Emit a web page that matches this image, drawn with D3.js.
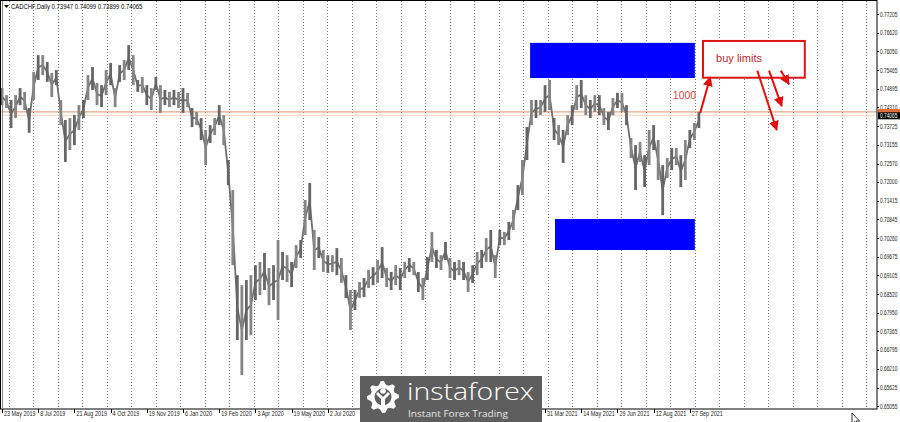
<!DOCTYPE html>
<html><head><meta charset="utf-8">
<script src="https://cdn.jsdelivr.net/npm/d3@7"></script>
<style>html,body{margin:0;padding:0;background:#fff;overflow:hidden}svg{display:block}</style>
</head><body>
<svg id="c" width="900" height="422"></svg>
<script>
// ---------- data ----------
const symbolTitle = "CADCHF,Daily";
const headerValues = ["0.73947", "0.74099", "0.73899", "0.74065"];
const priceTicks = [0.77205,0.76620,0.76050,0.75465,0.74895,0.74310,0.73725,0.73155,0.72570,0.72000,0.71415,0.70845,0.70260,0.69675,0.69105,0.68520,0.67950,0.67365,0.66795,0.66210,0.65625,0.65055];
const dateLabels = ["23 May 2019","8 Jul 2019","21 Aug 2019","4 Oct 2019","19 Nov 2019","6 Jan 2020","19 Feb 2020","3 Apr 2020","19 May 2020","2 Jul 2020","31 Mar 2021","14 May 2021","29 Jun 2021","12 Aug 2021","27 Sep 2021"];
const dateLabelBars = [0,8,16,24,32,40,48,56,64,72,120,128,136,144,152];
// sampled highs / lows of the daily bars (one sample every ~4.5 bars)
const highs = [0.7491,0.7469,0.7454,0.7469,0.7491,0.7479,0.7429,0.7541,0.7593,0.7593,
0.7572,0.7538,0.7547,0.7454,0.7392,0.7398,0.7407,0.7438,0.7454,0.7531,
0.7556,0.7507,0.7500,0.7547,0.7569,0.7491,0.7562,0.7578,0.7624,0.7593,
0.7516,0.7525,0.7500,0.7491,0.7525,0.7500,0.7485,0.7479,0.7485,0.7479,
0.7491,0.7476,0.7429,0.7417,0.7398,0.7361,0.7376,0.7398,0.7438,0.7407,
0.7268,0.7175,0.6911,0.6880,0.6896,0.6911,0.6942,0.6952,0.6980,0.6933,
0.6942,0.7020,0.6983,0.6973,0.6952,0.7004,0.7020,0.7144,0.7197,0.7051,
0.7029,0.6989,0.6973,0.6973,0.6995,0.6964,0.6911,0.6865,0.6865,0.6890,
0.6902,0.6927,0.6936,0.6958,0.6998,0.6933,0.6921,0.6942,0.6933,0.6952,
0.6964,0.6952,0.6921,0.6902,0.6967,0.7045,0.6989,0.6973,0.7014,0.6964,
0.6952,0.6958,0.6952,0.6921,0.6942,0.6983,0.6989,0.7026,0.7051,0.6973,
0.7051,0.7045,0.7076,0.7113,0.7190,0.7268,0.7370,0.7454,0.7454,0.7454,
0.7500,0.7516,0.7398,0.7376,0.7361,0.7407,0.7438,0.7500,0.7516,0.7469,
0.7454,0.7469,0.7469,0.7429,0.7417,0.7460,0.7476,0.7476,0.7438,0.7336,
0.7314,0.7324,0.7283,0.7361,0.7376,0.7330,0.7252,0.7274,0.7305,0.7305,
0.7283,0.7330,0.7361,0.7383,0.7417];
const lows = [0.7438,0.7429,0.7367,0.7398,0.7438,0.7423,0.7352,0.7454,0.7516,0.7531,
0.7510,0.7463,0.7500,0.7376,0.7262,0.7299,0.7314,0.7361,0.7398,0.7454,
0.7485,0.7438,0.7432,0.7469,0.7500,0.7432,0.7510,0.7516,0.7547,0.7500,
0.7479,0.7476,0.7438,0.7423,0.7485,0.7414,0.7438,0.7432,0.7438,0.7429,
0.7414,0.7432,0.7370,0.7376,0.7330,0.7252,0.7321,0.7345,0.7376,0.7314,
0.7190,0.6942,0.6710,0.6601,0.6710,0.6725,0.6834,0.6849,0.6865,0.6818,
0.6834,0.6772,0.6896,0.6890,0.6874,0.6933,0.6964,0.7035,0.7082,0.6927,
0.6964,0.6921,0.6918,0.6921,0.6911,0.6887,0.6840,0.6741,0.6803,0.6840,
0.6843,0.6871,0.6880,0.6887,0.6902,0.6874,0.6865,0.6880,0.6865,0.6902,
0.6921,0.6911,0.6859,0.6834,0.6896,0.6952,0.6933,0.6927,0.6958,0.6902,
0.6896,0.6911,0.6896,0.6859,0.6887,0.6911,0.6933,0.6952,0.6952,0.6902,
0.7004,0.7004,0.7020,0.7051,0.7113,0.7159,0.7268,0.7376,0.7398,0.7407,
0.7417,0.7423,0.7330,0.7314,0.7259,0.7345,0.7376,0.7423,0.7429,0.7407,
0.7398,0.7417,0.7407,0.7376,0.7361,0.7407,0.7429,0.7417,0.7376,0.7274,
0.7175,0.7262,0.7184,0.7252,0.7299,0.7206,0.7097,0.7212,0.7237,0.7252,
0.7184,0.7206,0.7305,0.7330,0.7367];
const lastPrice = 0.74065;
const levelPrice = 0.7417;
const zones = [
  {b0: 116.7, b1: 153.1, pTop: 0.7631, pBot: 0.7522},
  {b0: 122.2, b1: 153.1, pTop: 0.7085, pBot: 0.6989}
];
const noteBox = {b0: 154.9, b1: 177.4, pTop: 0.7637, pBot: 0.7523, text: "buy limits", tb: 157.8, tp: 0.7572};
const arrows = [
  {b0: 154.3, p0: 0.7414, b1: 156.5, p1: 0.7525},
  {b0: 166.9, p0: 0.7545, b1: 171.2, p1: 0.7361},
  {b0: 169.5, p0: 0.7545, b1: 172.3, p1: 0.7435},
  {b0: 172.1, p0: 0.7545, b1: 173.9, p1: 0.7503}
];
const lotNote = {text: "1000", b: 153.4, p: 0.7457};

// ---------- chart ----------
const svg = d3.select("#c");
const W = 900, H = 422, plotR = 877, plotB = 409;
const x = d3.scaleLinear().domain([0, 154]).range([2, 698.9]);
const y = d3.scaleLinear().domain([0.65055, 0.77205]).range([406, 14]);
const font = "'Liberation Sans', Arial, sans-serif";
const squeeze = (px, py, k) => `translate(${px},${py}) scale(${k},1)`;

svg.append("rect").attr("width", W).attr("height", H).attr("fill", "#fff");

// vertical dotted grid
const gridBars = d3.range(1.5, x.invert(plotR), 154 / 28.44);
svg.append("g").selectAll("line").data(gridBars).join("line")
  .attr("x1", d => Math.round(x(d)) + 0.5).attr("x2", d => Math.round(x(d)) + 0.5)
  .attr("y1", 1).attr("y2", plotB)
  .attr("stroke", "#7a7a7a").attr("stroke-width", 1).attr("stroke-dasharray", "1,2");

// zones
svg.append("g").selectAll("rect").data(zones).join("rect")
  .attr("x", d => x(d.b0)).attr("width", d => x(d.b1) - x(d.b0))
  .attr("y", d => y(d.pTop)).attr("height", d => y(d.pBot) - y(d.pTop))
  .attr("fill", "#0000ff");

// level lines
svg.append("line").attr("x1", 1).attr("x2", plotR).attr("y1", y(levelPrice)).attr("y2", y(levelPrice))
  .attr("stroke", "#d9906a").attr("stroke-width", 1);
svg.append("line").attr("x1", 1).attr("x2", plotR).attr("y1", y(lastPrice)).attr("y2", y(lastPrice))
  .attr("stroke", "#f0d2c2").attr("stroke-width", 1);

// price bars
const bars = highs.map((h, i) => ({i, h, l: lows[i]}));
const mid = d3.line().x(d => x(d.i)).y(d => y((d.h + d.l) / 2));
svg.append("path").datum(bars).attr("d", mid).attr("fill", "none")
  .attr("stroke", "#707070").attr("stroke-width", 1.8);
svg.append("g").selectAll("rect").data(bars).join("rect")
  .attr("x", d => x(d.i) - 1.4).attr("width", 2.8)
  .attr("y", d => y(d.h)).attr("height", d => y(d.l) - y(d.h))
  .attr("fill", (d, i) => i % 2 ? "#858585" : "#666");

// note box and arrows
svg.append("defs").append("marker").attr("id", "ah").attr("viewBox", "0 0 10 10")
  .attr("refX", 9).attr("refY", 5).attr("markerWidth", 5).attr("markerHeight", 5)
  .attr("orient", "auto").append("path").attr("d", "M0,0L10,5L0,10z").attr("fill", "#e01010");
svg.append("rect").attr("x", x(noteBox.b0)).attr("y", y(noteBox.pTop))
  .attr("width", x(noteBox.b1) - x(noteBox.b0)).attr("height", y(noteBox.pBot) - y(noteBox.pTop))
  .attr("fill", "#fff").attr("stroke", "#dd1414").attr("stroke-width", 2);
svg.append("text").attr("x", x(noteBox.tb)).attr("y", y(noteBox.tp))
  .attr("font-family", font).attr("font-size", 11).attr("fill", "#c0282a").text(noteBox.text);
svg.append("g").selectAll("line").data(arrows).join("line")
  .attr("x1", d => x(d.b0)).attr("y1", d => y(d.p0)).attr("x2", d => x(d.b1)).attr("y2", d => y(d.p1))
  .attr("stroke", "#e01010").attr("stroke-width", 2).attr("marker-end", "url(#ah)");
svg.append("text").attr("x", x(lotNote.b)).attr("y", y(lotNote.p)).attr("text-anchor", "end")
  .attr("font-family", font).attr("font-size", 10.5).attr("fill", "#d04848").text(lotNote.text);

// frame
svg.append("rect").attr("x", 0.5).attr("y", 0.5).attr("width", plotR - 0.5).attr("height", plotB - 0.5)
  .attr("fill", "none").attr("stroke", "#000");
svg.append("line").attr("x1", 2.5).attr("x2", 2.5).attr("y1", 1).attr("y2", plotB).attr("stroke", "#888");

// right price axis
const yAxis = svg.append("g");
yAxis.selectAll("line").data(priceTicks).join("line")
  .attr("x1", plotR).attr("x2", plotR + 2).attr("y1", d => Math.round(y(d)) + 0.5).attr("y2", d => Math.round(y(d)) + 0.5)
  .attr("stroke", "#000");
yAxis.selectAll("text").data(priceTicks).join("text")
  .attr("transform", d => squeeze(plotR + 3, y(d) + 2.5, 0.74))
  .attr("font-family", font).attr("font-size", 6.5).attr("fill", "#222")
  .text(d => d.toFixed(5));
// current price labels
svg.append("rect").attr("x", plotR + 1).attr("y", y(levelPrice) - 3).attr("width", W - plotR).attr("height", 6).attr("fill", "#e0703a");
svg.append("rect").attr("x", plotR + 1).attr("y", y(lastPrice) - 3).attr("width", W - plotR).attr("height", 7).attr("fill", "#000");
svg.append("text").attr("transform", squeeze(plotR + 3, y(lastPrice) + 2.8, 0.74)).attr("font-family", font)
  .attr("font-size", 6.5).attr("fill", "#fff").text(lastPrice.toFixed(5));

// bottom time axis
const xAxis = svg.append("g");
xAxis.selectAll("line").data(dateLabelBars).join("line")
  .attr("x1", d => Math.round(x(d)) + 0.5).attr("x2", d => Math.round(x(d)) + 0.5)
  .attr("y1", plotB).attr("y2", plotB + 4).attr("stroke", "#000");
xAxis.selectAll("text").data(dateLabels).join("text")
  .attr("transform", (d, i) => squeeze(x(dateLabelBars[i]) + 2, 415.5, 0.78))
  .attr("font-family", font).attr("font-size", 7).attr("fill", "#222").text(d => d);

// header
svg.append("path").attr("d", "M4,5L9,5L6.5,8z").attr("fill", "#000");
svg.append("text").attr("transform", squeeze(11, 9, 0.85)).attr("font-family", font).attr("font-size", 7).attr("fill", "#000")
  .text(symbolTitle + "  " + headerValues.join(" "));

// watermark logo
const logo = svg.append("g");
logo.append("rect").attr("x", 360).attr("y", 376).attr("width", 182).attr("height", 46).attr("fill", "#5e5e5e");
const gc = [383, 397];
const teeth = 8, rO = 16, rI = 12.5;
const gearPts = [];
for (let k = 0; k < teeth * 4; k++) {
  const a = (k / (teeth * 4)) * 2 * Math.PI - Math.PI / 2 - Math.PI / (teeth * 4) * 1.5;
  const r = (k % 4 === 0 || k % 4 === 1) ? rO : rI;
  gearPts.push([gc[0] + r * Math.cos(a), gc[1] + r * Math.sin(a)]);
}
logo.append("path").attr("d", "M" + gearPts.join("L") + "Z").attr("fill", "#fff");
logo.append("circle").attr("cx", gc[0]).attr("cy", gc[1]).attr("r", 8.5).attr("fill", "#5e5e5e");
logo.append("circle").attr("cx", gc[0]).attr("cy", gc[1] - 6).attr("r", 2.8).attr("fill", "#fff");
logo.append("path").attr("d", `M${gc[0]-7},${gc[1]-3}L${gc[0]-2},${gc[1]+2}L${gc[0]-2},${gc[1]+13}L${gc[0]+2},${gc[1]+13}L${gc[0]+2},${gc[1]+2}L${gc[0]+7},${gc[1]-3}L${gc[0]+5},${gc[1]-5}L${gc[0]},${gc[1]}L${gc[0]-5},${gc[1]-5}Z`).attr("fill", "#fff");
logo.append("text").attr("x", 407).attr("y", 400).attr("font-family", "'Open Sans', Lato, sans-serif")
  .attr("font-weight", 300).attr("font-size", 24).attr("fill", "#fff")
  .attr("textLength", 127).attr("lengthAdjust", "spacingAndGlyphs").text("instaforex");
logo.append("text").attr("x", 408).attr("y", 417).attr("font-family", "'Open Sans', Lato, sans-serif")
  .attr("font-size", 9.5).attr("fill", "#e6e6e6")
  .attr("textLength", 100).attr("lengthAdjust", "spacingAndGlyphs").text("Instant Forex Trading");

// mouse cursor
svg.append("path").attr("d", "M852,413L852,424L854.5,421.5L856.5,426L858,425.3L856,421L859.5,421Z")
  .attr("fill", "#fff").attr("stroke", "#000").attr("stroke-width", 0.8);
</script>
</body></html>
